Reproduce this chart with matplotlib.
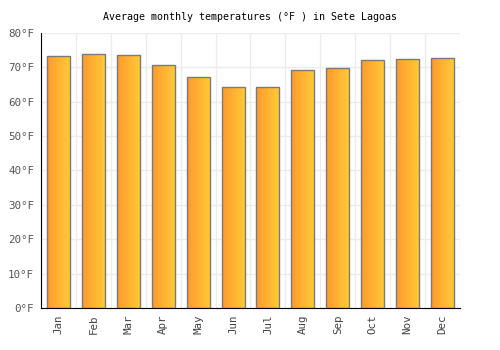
import numpy as np
import matplotlib
matplotlib.use("Agg")
import matplotlib.pyplot as plt
from matplotlib.colors import LinearSegmentedColormap

## Data
months = ["Jan", "Feb", "Mar", "Apr", "May", "Jun",
          "Jul", "Aug", "Sep", "Oct", "Nov", "Dec"]
temps_f = [73.3, 73.9, 73.6, 70.6, 67.3, 64.4,
           64.4, 69.1, 69.7, 72.1, 72.5, 72.8]
yticks = [0, 10, 20, 30, 40, 50, 60, 70, 80]

plt.rcParams["font.family"] = ["DejaVu Sans Mono"]

fig = plt.figure(figsize=(5, 3.5), dpi=100)
ax = fig.add_axes([0.082, 0.12, 0.838, 0.786])

x = np.arange(len(months))
bars = ax.bar(x, temps_f, width=0.66, color="none", edgecolor="#7a7a7a",
              linewidth=1.0, zorder=3)

# horizontal orange -> yellow gradient inside each bar
grad = LinearSegmentedColormap.from_list("og", ["#ff9a2e", "#ffcb35"])
gimg = np.linspace(0, 1, 64).reshape(1, -1)
for b in bars:
    x0, y0 = b.get_x(), b.get_y()
    im = ax.imshow(gimg, cmap=grad, aspect="auto",
                   extent=[x0, x0 + b.get_width(), y0, y0 + b.get_height()],
                   zorder=2)
    im.set_clip_path(b)

ax.set_xlim(-0.5, len(months) - 0.5)
ax.set_ylim(0, 80)
ax.set_xticks(x)
ax.set_xticklabels(months, rotation=90, fontsize=7.8, color="#444444")
ax.set_yticks(yticks)
ax.set_yticklabels([f"{v}°F" for v in yticks], fontsize=7.8, color="#555555")
ax.tick_params(length=0, pad=5)

# grid
ax.set_xticks(np.arange(-0.5, len(months)), minor=True)
ax.grid(True, which="minor", axis="x", color="#ececec", linewidth=1, zorder=0)
ax.grid(True, which="major", axis="y", color="#ececec", linewidth=1, zorder=0)
ax.tick_params(which="minor", length=0)

for side in ["top", "right"]:
    ax.spines[side].set_visible(False)
ax.spines["left"].set_color("black")
ax.spines["bottom"].set_color("black")

ax.set_title("Average monthly temperatures (°F ) in Sete Lagoas",
             fontsize=7.2, pad=9)

fig.savefig("out.png", dpi=100)
